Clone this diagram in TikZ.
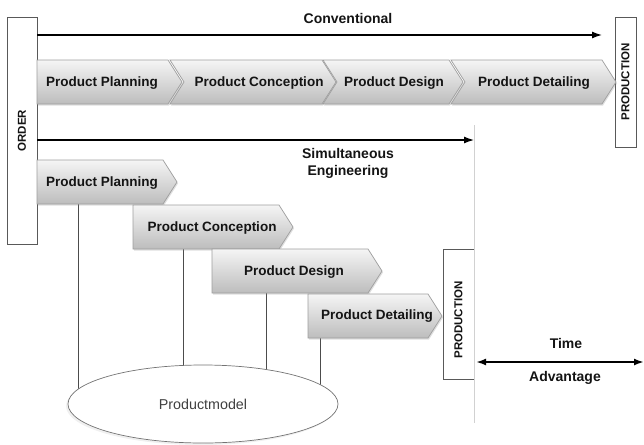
\documentclass[tikz,border=0pt]{standalone}
\usepackage{fontspec}
\setmainfont{Liberation Sans}
\usetikzlibrary{arrows.meta,shapes.geometric,shadows}
\newcommand\chevpath[5]{% L R T B notch
  \path[chevfill] (#1,#3) -- (#2,#3) -- ({#2+14},{(#3+#4)/2}) -- (#2,#4) -- (#1,#4) -- ({#1+#5},{(#3+#4)/2}) -- cycle;}
\begin{document}
\begin{tikzpicture}[x=1pt,y=-1pt,
  chevfill/.style={draw=black!38, line width=0.7pt, top color=black!4, bottom color=black!26,
    drop shadow={opacity=0.25,shadow xshift=1pt,shadow yshift=-1.5pt}},
  chevtext/.style={font=\bfseries\fontsize{13.5}{15}\selectfont, text=black!92, inner sep=0pt},
  lbl/.style={font=\bfseries\fontsize{14}{17}\selectfont, text=black!92, align=center, inner sep=0pt},
  vbox/.style={draw=black!65, line width=0.8pt, fill=white, inner sep=0pt},
  vtext/.style={font=\bfseries\fontsize{11.5}{13}\selectfont, rotate=90, text=black!92, inner sep=0pt},
  bigarrow/.style={line width=2.8pt, -{Latex[length=11pt,width=7pt]}},
  timearrow/.style={line width=2.6pt, {Latex[length=10pt,width=7pt]}-{Latex[length=10pt,width=7pt]}},
  link/.style={draw=black!70, line width=0.7pt}
]
\useasboundingbox (0,0) rectangle (644,444);
% boxes
\node[vbox, minimum width=30pt, minimum height=227pt] (order) at (22,130.5) {};
\node[vtext] (ordert) at (order.center) {ORDER};
\node[vbox, minimum width=21pt, minimum height=130pt] (prod1) at (625.5,82) {};
\node[vtext] (prod1t) at (prod1.center) {PRODUCTION};
\node[vbox, minimum width=31pt, minimum height=130pt] (prod2) at (458.5,314) {};
\node[vtext] (prod2t) at (458.5,320) {PRODUCTION};
% gray divider
\coordinate (gtop) at (474,125);
\coordinate (gbot) at (474,423);
\draw[black!18, line width=1pt] (gtop) -- (gbot);
% arrows
\coordinate (c1a) at (37,35);
\coordinate (c1b) at (603,35);
\draw[bigarrow] (c1a) -- (c1b);
\coordinate (c2a) at (37,140);
\coordinate (c2b) at (475,140);
\draw[bigarrow] (c2a) -- (c2b);
\coordinate (ta) at (476,362);
\coordinate (tb) at (644,362);
\draw[timearrow] (ta) -- (tb);
\node[lbl] (conv) at (348,18) {Conventional};
\node[lbl] (sim) at (348,163.5) {Simultaneous\\Engineering};
\node[lbl] (time) at (566,343) {Time};
\node[lbl] (adv) at (565,378) {Advantage};
% links to product model
\coordinate (l1a) at (78,204);  \coordinate (l1b) at (78,400);
\coordinate (l2a) at (183,249); \coordinate (l2b) at (183,400);
\coordinate (l3a) at (266,293); \coordinate (l3b) at (266,400);
\coordinate (l4a) at (320,338); \coordinate (l4b) at (320,400);
\draw[link] (l1a) -- (l1b);
\draw[link] (l2a) -- (l2b);
\draw[link] (l3a) -- (l3b);
\draw[link] (l4a) -- (l4b);
\node[ellipse, draw=black!55, line width=0.7pt, fill=white, minimum width=270pt, minimum height=78pt, inner sep=0pt,
  drop shadow={opacity=0.12,shadow xshift=-2pt,shadow yshift=-2pt},
  font=\fontsize{14.3}{16}\selectfont, text=black!75] (pm) at (203,404) {Productmodel};
% staircase chevrons
\chevpath{37}{163}{160}{204}{0}
\node[chevtext] (s1) at (102,183) {Product Planning};
\chevpath{133}{279}{205}{249}{0}
\node[chevtext] (s2) at (212,228) {Product Conception};
\chevpath{212}{368}{249}{293}{0}
\node[chevtext] (s3) at (294,272) {Product Design};
\chevpath{308}{428}{294}{338}{0}
\node[chevtext] (s4) at (377,316) {Product Detailing};
% top row chevrons
\chevpath{37}{168}{60}{104}{0}
\node[chevtext] (t1) at (102,83) {Product Planning};
\chevpath{170}{322}{60}{104}{14}
\node[chevtext] (t2) at (259,83) {Product Conception};
\chevpath{323}{449}{60}{104}{14}
\node[chevtext] (t3) at (394,83) {Product Design};
\chevpath{451}{602}{60}{104}{14}
\node[chevtext] (t4) at (534,83) {Product Detailing};
\end{tikzpicture}
\end{document}
